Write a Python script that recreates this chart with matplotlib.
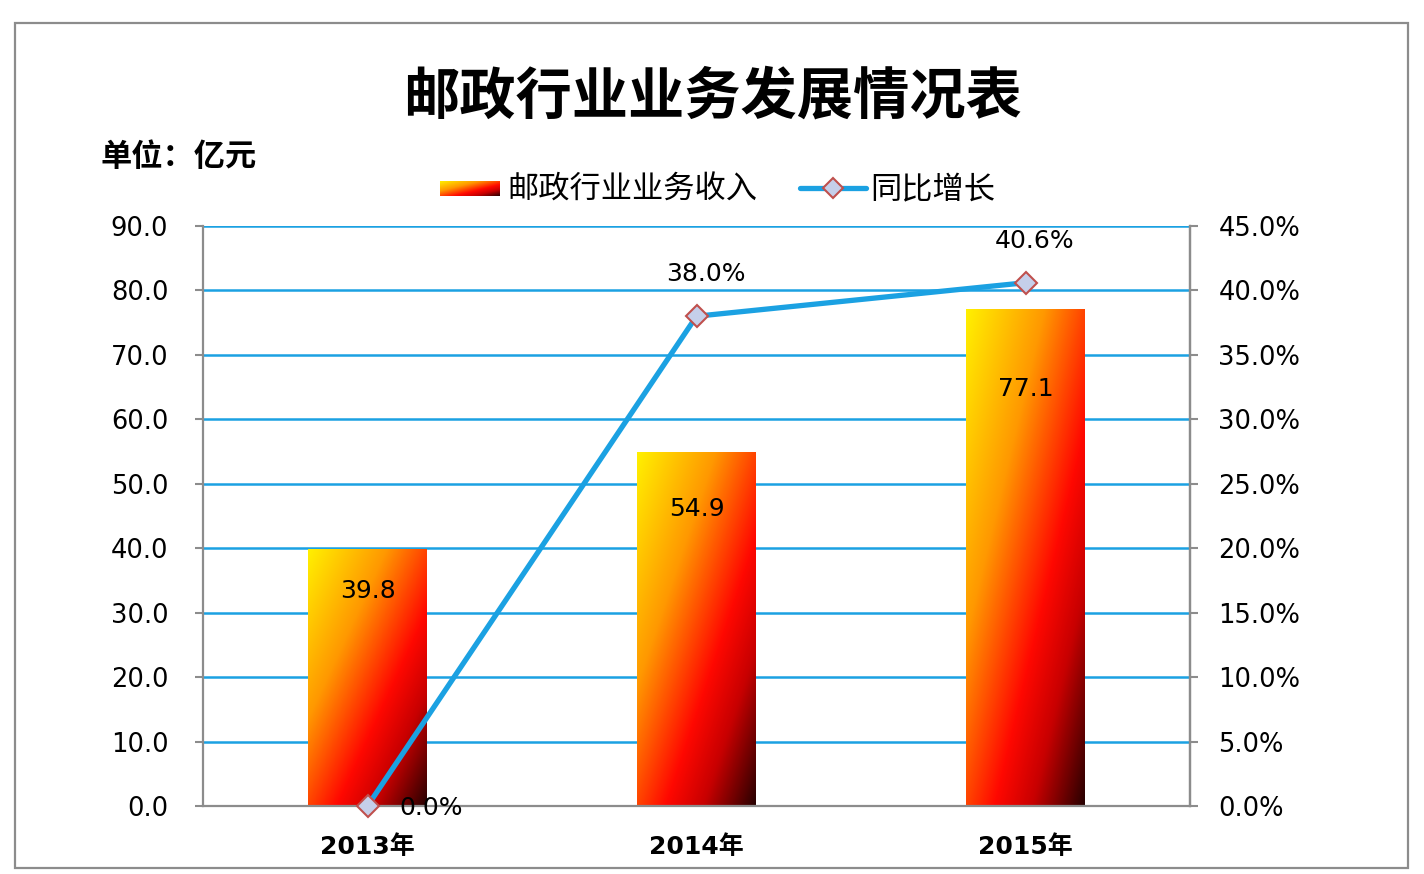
import numpy as np
import matplotlib
matplotlib.use("Agg")
import matplotlib.pyplot as plt
from matplotlib.colors import LinearSegmentedColormap
from matplotlib.lines import Line2D
from matplotlib.patches import Rectangle

plt.rcParams['font.family'] = ['DejaVu Sans', 'Noto Sans CJK SC']
cjk = ['Noto Sans CJK SC', 'DejaVu Sans']

years = ['2013年', '2014年', '2015年']
revenue = [39.8, 54.9, 77.1]
growth = [0.0, 38.0, 40.6]
rev_ticks = [0, 10, 20, 30, 40, 50, 60, 70, 80, 90]
pct_ticks = [0, 5, 10, 15, 20, 25, 30, 35, 40, 45]

grad = LinearSegmentedColormap.from_list(
    'fire', [(0.0, '#FFF000'), (0.33, '#FF9800'), (0.62, '#FF0800'),
             (0.78, '#C80000'), (1.0, '#280000')])
blue = '#1BA1E2'
gray = '#8C8C8C'

fig = plt.figure(figsize=(14.24, 8.74), dpi=100)
fig.patches.append(Rectangle((15 / 1424, 6 / 874), 1393 / 1424, 845 / 874,
                             transform=fig.transFigure, fill=False,
                             edgecolor='#8C8C8C', lw=1.6, zorder=0))

ax = fig.add_axes([203 / 1424, 68 / 874, 987 / 1424, 580 / 874])
ax2 = ax.twinx()

x = np.arange(len(years))
w = 0.36

# gradient bars: diagonal from top-left (yellow) to bottom-right (dark red)
n = 200
u = np.linspace(0, 1, n)[None, :]
v = np.linspace(0, 1, n)[:, None]
t = (u + v) / 2
for xi, val in zip(x, revenue):
    ax.imshow(t, cmap=grad, vmin=0, vmax=1, aspect='auto', origin='upper',
              extent=(xi - w / 2, xi + w / 2, 0, val), zorder=2,
              interpolation='bilinear')
    ax.text(xi, val * 0.84, f'{val:.1f}', ha='center', va='center',
            fontsize=18, zorder=5)

ax.set_xlim(-0.5, 2.5)
ax.set_ylim(0, 90)
ax.set_yticks(rev_ticks)
ax.set_yticklabels([f'{v:.1f}' for v in rev_ticks], fontsize=18.5)
ax.set_xticks(x)
ax.set_xticklabels(years, fontsize=18, fontweight='bold')
ax.tick_params(axis='x', length=0, pad=21)
ax.tick_params(axis='y', length=6, color=gray, width=1.5, pad=19, direction='out')
ax.grid(axis='y', color=blue, lw=1.8, zorder=1)
ax.set_axisbelow(True)
ax.spines['top'].set_visible(False)
for side in ['left', 'bottom', 'right']:
    ax.spines[side].set_color(gray)
    ax.spines[side].set_linewidth(1.6)

ax2.plot(x, growth, color=blue, lw=3.8, marker='D', markersize=11,
         markerfacecolor='#C5CFEA', markeredgecolor='#C0504D',
         markeredgewidth=1.5, zorder=4, clip_on=False)
ax2.set_ylim(0, 45)
ax2.set_yticks(pct_ticks)
ax2.set_yticklabels([f'{v:.1f}%' for v in pct_ticks], fontsize=18.5)
ax2.tick_params(axis='y', length=6, color=gray, width=1.5, pad=14.5, direction='out')
ax2.spines['top'].set_visible(False)
ax2.spines['right'].set_color(gray)
ax2.spines['right'].set_linewidth(1.6)
ax2.spines['left'].set_visible(False)
ax2.spines['bottom'].set_visible(False)

ax2.annotate(f'{growth[0]:.1f}%', (x[0], growth[0]), xytext=(64, -2),
             textcoords='offset pixels', ha='center', va='center', fontsize=18)
for xi, g in zip(x[1:], growth[1:]):
    ax2.annotate(f'{g:.1f}%', (xi, g), xytext=(9, 42),
                 textcoords='offset pixels', ha='center', va='center', fontsize=18)

fig.text(712 / 1424, 1 - 97 / 874, '邮政行业业务发展情况表', ha='center', va='center',
         fontsize=40.5, fontweight='bold', family=cjk)
fig.text(100 / 1424, 1 - 157 / 874, '单位：亿元', ha='left', va='center',
         fontsize=22.5, fontweight='bold', family=cjk)

# legend
lax = fig.add_axes([440 / 1424, 1 - 196 / 874, 60 / 1424, 15 / 874])
lax.imshow(t, cmap=grad, vmin=0, vmax=1, aspect='auto', interpolation='bilinear')
lax.axis('off')
fig.text(507 / 1424, 1 - 190 / 874, '邮政行业业务收入', ha='left', va='center',
         fontsize=22.5, family=cjk)
fig.lines.append(Line2D([800 / 1424, 866 / 1424], [1 - 188 / 874, 1 - 188 / 874],
                        transform=fig.transFigure, color=blue, lw=3.8,
                        solid_capstyle='round'))
fig.lines.append(Line2D([833 / 1424], [1 - 188 / 874], transform=fig.transFigure,
                        marker='D', markersize=10, markerfacecolor='#C5CFEA',
                        markeredgecolor='#C0504D', markeredgewidth=1.5))
fig.text(870 / 1424, 1 - 190 / 874, '同比增长', ha='left', va='center',
         fontsize=22.5, family=cjk)

fig.savefig('out.png', dpi=100)
